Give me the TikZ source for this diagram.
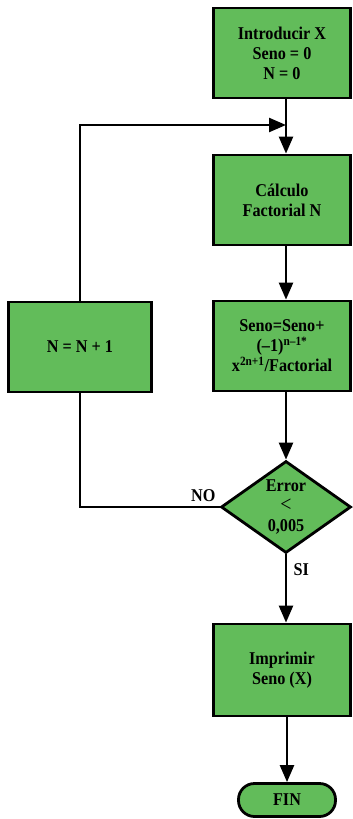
\documentclass[tikz,border=0pt]{standalone}
\usepackage{fontspec}
\setmainfont{Liberation Serif}
\newfontfamily\narrowfont[FakeStretch=0.9]{Liberation Serif}
\usetikzlibrary{shapes.geometric,arrows.meta}
\definecolor{boxgreen}{RGB}{98,188,90}
\begin{document}
\begin{tikzpicture}[x=1pt,y=-1pt,
  txt/.style={font=\narrowfont\bfseries\fontsize{18}{20}\selectfont},
  box/.style={draw, line width=2.8pt, fill=boxgreen, minimum width=137pt, minimum height=90pt, inner sep=0pt, align=center, txt},
  dia/.style={draw, line width=2.8pt, fill=boxgreen, diamond, aspect=1.4, minimum width=130pt, minimum height=92pt, inner sep=0pt, align=center, txt},
  term/.style={draw, line width=2.8pt, fill=boxgreen, rounded corners=16pt, minimum width=97pt, minimum height=33pt, inner sep=0pt, txt},
  conn/.style={line width=2.4pt},
  arr/.style={conn, -{Triangle[length=17pt,width=14pt]}}
]
\useasboundingbox (0,0) rectangle (353,819);
\coordinate (ax) at (286,0);
\node[box] (b1) at (282,53) {Introducir X\\Seno = 0\\N = 0};
\node[box] (b2) at (282,200) {Cálculo\\Factorial N};
\node[box] (b3) at (282,346) {Seno=Seno+\\(–1)\textsuperscript{n–1*}\\x\textsuperscript{2n+1}/Factorial};
\node[box, minimum width=143pt] (bn) at (80,347) {N = N + 1};
\node[dia] (d) at (286,507) {Error\\{\mdseries\fontsize{22}{20}\selectfont <}\\0,005};
\node[box, minimum height=92pt] (b4) at (282,670) {Imprimir\\Seno (X)};
\node[term] (fin) at (287,800) {FIN};
\coordinate (j) at (286,125);
\draw[arr] (b1.south -| ax) -- (b2.north -| ax);
\draw[arr] (b2.south -| ax) -- (b3.north -| ax);
\draw[arr] (b3.south -| ax) -- (d.north);
\draw[arr] (d.south) -- (b4.north -| d);
\draw[arr] (b4.south -| fin) -- (fin.north);
\draw[arr] (bn.north) |- (j);
\draw[conn] (d.west) -| (bn.south);
\node[txt, anchor=south east] (no) at (219,505) {NO};
\node[txt, anchor=north west] (si) at (290,560) {SI};
\end{tikzpicture}
\end{document}
